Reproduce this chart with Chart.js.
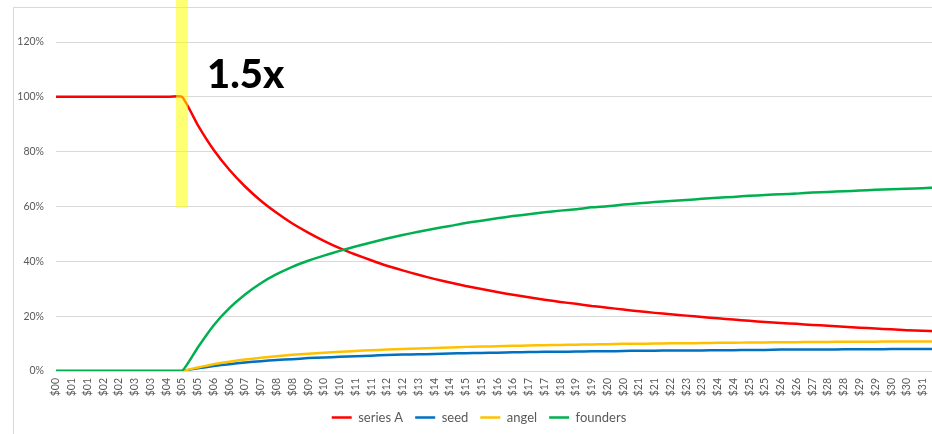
<!DOCTYPE html>
<html>
<head>
<meta charset="utf-8">
<title>Exit proceeds by holder</title>
<script src="https://cdn.jsdelivr.net/npm/chart.js@4/dist/chart.umd.min.js"></script>
<style>
  html, body { margin: 0; padding: 0; background: #ffffff; overflow: hidden; }
  #frame {
    position: absolute; left: 13px; top: 7px; width: 1200px; height: 1200px;
    border-left: 1px solid #d9d9d9; border-top: 1px solid #d9d9d9;
  }
  #chart { position: absolute; left: 0; top: 0; }
</style>
</head>
<body>
<div id="frame"></div>
<canvas id="chart" width="958" height="434"></canvas>
<script>
// Exit value (category labels along the bottom axis)
const exitLabels = [
  '$00','$01','$01','$02','$02','$03','$03','$04','$05','$05','$06','$06','$07','$07','$08','$08','$09',
  '$10','$10','$11','$11','$12','$12','$13','$14','$14','$15','$15','$16','$16','$17','$17','$18','$19','$19','$20','$20',
  '$21','$21','$22','$23','$23','$24','$24','$25','$25','$26','$26','$27','$28','$28','$29','$29','$30','$30','$31','$32'
];

// Share of proceeds, in percent
const seriesA = [
  100, 100, 100, 100, 100, 100, 100, 100, 100, 89.7, 80.7, 73.4, 67.3, 62.1, 57.7, 53.8, 50.5,
  47.5, 44.8, 42.5, 40.4, 38.4, 36.7, 35.1, 33.6, 32.3, 31.0, 29.9, 28.8, 27.8, 26.9, 26.0, 25.2, 24.5, 23.7, 23.1, 22.4,
  21.8, 21.2, 20.7, 20.2, 19.7, 19.2, 18.8, 18.3, 17.9, 17.5, 17.2, 16.8, 16.5, 16.1, 15.8, 15.5, 15.2, 14.9, 14.7, 14.4
];
const seed = [
  0, 0, 0, 0, 0, 0, 0, 0, 0, 1.0, 1.8, 2.5, 3.1, 3.6, 4.0, 4.3, 4.7,
  4.9, 5.2, 5.4, 5.6, 5.8, 6.0, 6.1, 6.2, 6.4, 6.5, 6.6, 6.7, 6.8, 6.9, 7.0, 7.0, 7.1, 7.2, 7.2, 7.3,
  7.4, 7.4, 7.5, 7.5, 7.5, 7.6, 7.6, 7.7, 7.7, 7.8, 7.8, 7.8, 7.8, 7.9, 7.9, 7.9, 8.0, 8.0, 8.0, 8.0
];
const angel = [
  0, 0, 0, 0, 0, 0, 0, 0, 0, 1.3, 2.5, 3.4, 4.2, 4.8, 5.4, 5.9, 6.3,
  6.7, 7.0, 7.3, 7.6, 7.8, 8.0, 8.2, 8.4, 8.6, 8.8, 8.9, 9.0, 9.2, 9.3, 9.4, 9.5, 9.6, 9.7, 9.8, 9.9,
  9.9, 10.0, 10.1, 10.1, 10.2, 10.3, 10.3, 10.4, 10.4, 10.5, 10.5, 10.6, 10.6, 10.7, 10.7, 10.7, 10.8, 10.8, 10.8, 10.8
];
const founders = [
  0, 0, 0, 0, 0, 0, 0, 0, 0, 8.6, 16.6, 22.9, 27.9, 32.0, 35.3, 38.0, 40.2,
  42.1, 43.8, 45.4, 46.9, 48.3, 49.6, 50.8, 51.9, 52.9, 54.0, 54.8, 55.7, 56.5, 57.2, 57.9, 58.5, 59.0, 59.7, 60.1, 60.7,
  61.2, 61.6, 62.0, 62.4, 62.8, 63.2, 63.5, 63.9, 64.2, 64.5, 64.7, 65.1, 65.3, 65.6, 65.8, 66.1, 66.3, 66.5, 66.7, 66.9
];

// Highlighted exit value and its callout
const markerIndex = 8;          // the first "$05" category
const markerFloor = 59.5;       // band runs from the top down to this share (%)
const markerText = '1.5x';

const TEXT_GREY = '#595959';
const GRID_GREY = '#d9d9d9';
const tickFont = { family: 'Lato, "Liberation Sans", sans-serif', size: 10.5 };

const markerPlugin = {
  id: 'marker',
  afterDatasetsDraw(chart) {
    const { ctx, scales } = chart;
    const cx = scales.x.getPixelForValue(markerIndex);
    const floor = scales.y.getPixelForValue(markerFloor);
    ctx.save();
    ctx.fillStyle = 'rgba(255, 255, 0, 0.55)';
    ctx.fillRect(cx - 6, 0, 12, floor);
    ctx.fillStyle = '#000000';
    ctx.font = '900 40px Lato, "DejaVu Sans", sans-serif';
    ctx.textAlign = 'left';
    ctx.textBaseline = 'alphabetic';
    ctx.fillText(markerText, cx + 25, scales.y.getPixelForValue(100) - 9);
    ctx.restore();
  }
};

function line(label, data, color, order) {
  return {
    label, data, order,
    borderColor: color,
    backgroundColor: color,
    borderWidth: 2.5,
    pointRadius: 0,
    pointHoverRadius: 0,
    fill: false,
    tension: 0.15
  };
}

new Chart(document.getElementById('chart'), {
  type: 'line',
  data: {
    labels: exitLabels,
    datasets: [
      line('series A', seriesA, '#ff0000', 3),
      line('seed', seed, '#0070c0', 2),
      line('angel', angel, '#ffc000', 1),
      line('founders', founders, '#00b050', 0)
    ]
  },
  options: {
    responsive: false,
    animation: false,
    devicePixelRatio: 1,
    layout: { padding: { top: 14.6, left: 0, right: 0, bottom: 0 } },
    plugins: {
      tooltip: { enabled: false },
      legend: {
        position: 'bottom',
        labels: {
          usePointStyle: true,
          pointStyle: 'line',
          pointStyleWidth: 20,
          padding: 12,
          color: TEXT_GREY,
          font: { family: 'Lato, "Liberation Sans", sans-serif', size: 13 },
          sort: (a, b) => a.datasetIndex - b.datasetIndex
        }
      }
    },
    scales: {
      x: {
        type: 'category',
        offset: false,
        grid: { display: false, drawTicks: false },
        border: { display: false },
        ticks: {
          autoSkip: false,
          maxRotation: 90,
          minRotation: 90,
          padding: 7,
          color: TEXT_GREY,
          font: tickFont
        },
        afterFit(scale) { scale.height = 28; }
      },
      y: {
        type: 'linear',
        min: 0,
        max: 130,
        grid: {
          color: GRID_GREY,
          lineWidth: 1,
          drawTicks: true,
          tickLength: 10,
          tickColor: 'rgba(0, 0, 0, 0)'
        },
        border: { display: false },
        ticks: {
          stepSize: 20,
          includeBounds: false,
          padding: 2,
          color: TEXT_GREY,
          font: tickFont,
          callback: (v) => v + '%'
        },
        afterFit(scale) { scale.width = 56; }
      },
      yRight: {
        type: 'linear',
        position: 'right',
        grid: { display: false, drawTicks: false },
        border: { display: false },
        ticks: { display: false },
        afterFit(scale) { scale.width = 15; }
      }
    }
  },
  plugins: [markerPlugin]
});
</script>
</body>
</html>
